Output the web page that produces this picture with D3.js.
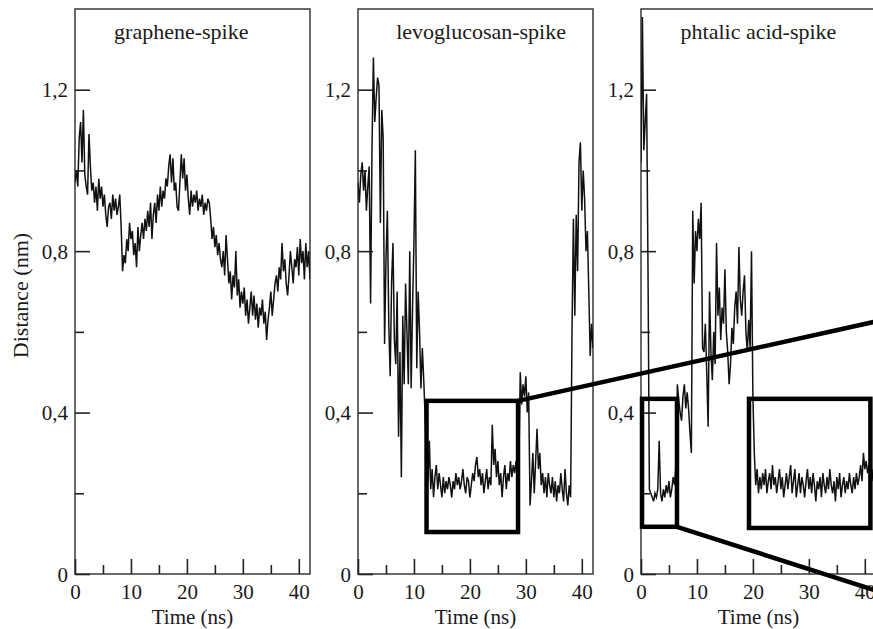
<!DOCTYPE html>
<html>
<head>
<meta charset="utf-8">
<script src="https://cdn.jsdelivr.net/npm/d3@7/dist/d3.min.js"></script>
<style>
body{margin:0;background:#fff}
svg text{font-family:"Liberation Serif","Times New Roman",serif;fill:#1a1a1a}
</style>
</head>
<body>
<svg id="chart" width="873" height="629"></svg>
<script>

// distance (nm) sampled every 0.25 ns, t = 0 .. 42
let time_step = 0.25

let graphene_spike = [
0.97,1.00,0.96,1.08,1.12,1.02,1.15,0.99,0.96,
0.94,1.09,1.01,0.95,0.97,0.92,0.96,0.90,
0.98,0.93,0.96,0.91,0.94,0.89,0.86,0.91,
0.92,0.88,0.94,0.90,0.93,0.89,0.91,0.94,
0.86,0.75,0.79,0.77,0.83,0.80,0.87,0.83,
0.85,0.79,0.82,0.76,0.86,0.80,0.84,0.87,
0.83,0.88,0.85,0.90,0.86,0.92,0.83,0.89,
0.92,0.87,0.94,0.90,0.96,0.91,0.95,0.93,
0.98,0.96,1.01,1.04,0.97,1.03,0.95,0.97,
0.91,0.90,0.97,1.04,0.98,1.03,0.95,0.99,
0.93,0.89,0.95,0.91,0.94,0.92,0.95,0.90,
0.93,0.91,0.94,0.89,0.92,0.90,0.93,0.92,
0.88,0.83,0.86,0.81,0.84,0.79,0.82,0.78,
0.76,0.80,0.74,0.84,0.78,0.72,0.75,0.68,
0.74,0.71,0.80,0.69,0.73,0.66,0.70,0.67,
0.71,0.64,0.68,0.62,0.66,0.70,0.64,0.69,
0.63,0.67,0.61,0.66,0.64,0.68,0.62,0.65,
0.58,0.63,0.66,0.70,0.64,0.68,0.72,0.74,
0.70,0.76,0.73,0.82,0.75,0.78,0.72,0.69,
0.74,0.80,0.76,0.72,0.78,0.76,0.81,0.74,
0.83,0.77,0.80,0.73,0.82,0.76,0.80,0.73]

let levoglucosan_spike = [
0.97,0.92,0.99,1.02,0.95,1.00,0.90,0.96,1.01,
0.67,1.05,1.28,1.12,1.18,1.23,1.21,0.87,
1.15,1.08,0.57,0.78,0.90,0.62,0.49,0.72,
0.82,0.58,0.52,0.70,0.34,0.55,0.24,0.64,
0.47,0.72,0.60,0.47,0.80,0.46,0.66,0.82,
1.05,0.51,0.70,0.60,0.46,0.56,0.48,0.39,
0.27,0.23,0.33,0.21,0.26,0.19,0.24,0.27,
0.21,0.25,0.22,0.19,0.24,0.20,0.23,0.21,
0.24,0.22,0.19,0.23,0.21,0.25,0.22,0.24,
0.21,0.23,0.26,0.22,0.20,0.24,0.23,0.19,
0.22,0.25,0.23,0.27,0.29,0.24,0.26,0.22,
0.25,0.20,0.23,0.26,0.21,0.24,0.22,0.37,
0.27,0.31,0.24,0.28,0.22,0.25,0.19,0.24,
0.27,0.21,0.25,0.23,0.28,0.24,0.27,0.25,
0.28,0.24,0.27,0.50,0.42,0.47,0.44,0.49,
0.40,0.45,0.17,0.23,0.30,0.20,0.28,0.36,
0.26,0.30,0.22,0.25,0.20,0.24,0.19,0.25,
0.22,0.20,0.24,0.19,0.23,0.18,0.22,0.20,
0.25,0.21,0.18,0.26,0.20,0.17,0.22,0.19,
0.60,0.88,0.64,0.89,0.75,1.02,1.07,0.90,
1.00,0.93,0.80,0.85,0.70,0.54,0.62,0.56]

let phtalic_acid_spike = [
1.02,1.38,1.05,1.12,1.19,0.76,0.21,0.20,0.19,
0.18,0.20,0.19,0.21,0.33,0.20,0.18,0.21,
0.19,0.22,0.20,0.23,0.19,0.21,0.24,0.22,
0.27,0.47,0.43,0.40,0.38,0.44,0.47,0.41,
0.45,0.41,0.35,0.30,0.90,0.72,0.85,0.80,
0.88,0.83,0.92,0.56,0.55,0.62,0.50,0.365,
0.70,0.55,0.48,0.60,0.52,0.82,0.64,0.71,
0.58,0.66,0.62,0.755,0.60,0.55,0.47,0.52,
0.61,0.57,0.66,0.70,0.62,0.81,0.68,0.64,
0.70,0.74,0.60,0.55,0.63,0.56,0.80,0.44,
0.30,0.22,0.26,0.20,0.24,0.21,0.25,0.22,
0.26,0.20,0.23,0.25,0.21,0.27,0.22,0.24,
0.20,0.23,0.26,0.21,0.24,0.19,0.22,0.25,
0.21,0.24,0.27,0.20,0.23,0.26,0.19,0.22,
0.25,0.20,0.24,0.22,0.19,0.23,0.26,0.21,
0.24,0.20,0.25,0.22,0.18,0.23,0.21,0.24,
0.19,0.25,0.22,0.20,0.24,0.21,0.26,0.22,
0.20,0.23,0.18,0.24,0.21,0.25,0.19,0.22,
0.24,0.20,0.23,0.21,0.25,0.22,0.20,0.24,
0.21,0.25,0.22,0.24,0.27,0.23,0.30,0.26,
0.28,0.25,0.27,0.24,0.26,0.23,0.25,0.24]

let panel_series = [graphene_spike, levoglucosan_spike, phtalic_acid_spike]
let panel_titles = ["graphene-spike", "levoglucosan-spike", "phtalic acid-spike"]
let title_at = [19, 22, 21]   // title centre, in ns

let x_major = [0, 10, 20, 30, 40]
let x_minor = [5, 15, 25, 35]
let y_major = [0, 0.4, 0.8, 1.2]
let y_major_labels = ["0", "0,4", "0,8", "1,2"]
let y_minor = [0.2, 0.6, 1.0]

// zoom boxes: panel, t from, t to, top, bottom
let zoom_boxes = [
  [1, 12.25, 28.6, 0.429, 0.104],
  [2, 0.18, 6.43, 0.434, 0.117],
  [2, 19.3, 41.0, 0.434, 0.114]
]

// connector lines: [panel, t, d] -> [panel, t, d]
let connectors = [
  [[1, 28.6, 0.429], [2, 44, 0.632]],
  [[2, 6.43, 0.117], [2, 44, -0.05]]
]


let panel_left = [75, 358, 641]
let panel_w = 235
let plot_top = 9
let plot_bottom = 574
let font_px = '21px'

let svg = d3.select('#chart')

svg.append('rect')
.attr('width', 873)
.attr('height', 629)
.attr('fill', 'white')

let y = d3.scaleLinear()
.domain([0, 1.4])
.range([plot_bottom, plot_top])

let x_scales = panel_left.map(l => d3.scaleLinear().domain([0, 42]).range([l, l + panel_w]))

function px(p){ return x_scales[p[0]](p[1]) }
function py(p){ return y(p[2]) }


panel_series.forEach((series, i) => {

let x = x_scales[i]
let g = svg.append('g').attr('class', 'panel')

g.append('clipPath')
.attr('id', 'clip_' + i)
.append('rect')
.attr('x', x.range()[0])
.attr('y', plot_top)
.attr('width', panel_w)
.attr('height', plot_bottom - plot_top)

// frame
g.append('rect')
.attr('x', x.range()[0])
.attr('y', plot_top)
.attr('width', panel_w)
.attr('height', plot_bottom - plot_top)
.attr('fill', 'none')
.attr('stroke', '#3a3a3a')
.attr('stroke-width', 1.5)

// y ticks, inward
let y_ax = g.append('g')
.attr('transform', 'translate(' + x.range()[0] + ',0)')
.call(d3.axisLeft(y).tickValues(y_major).tickSize(-15).tickPadding(7)
  .tickFormat((d, k) => y_major_labels[k]))

let y_ax_minor = g.append('g')
.attr('transform', 'translate(' + x.range()[0] + ',0)')
.call(d3.axisLeft(y).tickValues(y_minor).tickSize(-9).tickFormat(''))

// x ticks, inward
let x_ax = g.append('g')
.attr('transform', 'translate(0,' + plot_bottom + ')')
.call(d3.axisBottom(x).tickValues(x_major).tickSize(-15).tickPadding(9)
  .tickFormat(d3.format('d')))

let x_ax_minor = g.append('g')
.attr('transform', 'translate(0,' + plot_bottom + ')')
.call(d3.axisBottom(x).tickValues(x_minor).tickSize(-9).tickFormat(''))

g.selectAll('.domain').remove()

g.selectAll('.tick line')
.attr('stroke', '#222')
.attr('stroke-width', 1.6)

g.selectAll('.tick text')
.style('font-size', font_px)
.attr('fill', '#1a1a1a')

x_ax.selectAll('.tick text')
.attr('dy', null)
.attr('y', 25)

y_ax.selectAll('.tick text')
.attr('dy', '0.34em')

// trace
let line = d3.line()
.x((d, k) => x(k * time_step))
.y(d => y(d))

g.append('path')
.datum(series)
.attr('clip-path', 'url(#clip_' + i + ')')
.attr('d', line)
.attr('fill', 'none')
.attr('stroke', '#111')
.attr('stroke-width', 1.5)
.attr('stroke-linejoin', 'miter')

// title
g.append('text')
.attr('x', x(title_at[i]))
.attr('y', 39)
.attr('text-anchor', 'middle')
.style('font-size', '22px')
.text(panel_titles[i])

g.append('text')
.attr('x', x(21))
.attr('y', 624)
.attr('text-anchor', 'middle')
.style('font-size', font_px)
.text('Time (ns)')

})


svg.append('text')
.attr('transform', 'translate(28,' + y(0.69) + ') rotate(-90)')
.attr('text-anchor', 'middle')
.style('font-size', '22px')
.text('Distance (nm)')


// zoom boxes
svg.selectAll('rect.zoom_box')
.data(zoom_boxes)
.enter()
.append('rect')
.attr('class', 'zoom_box')
.attr('x', d => x_scales[d[0]](d[1]))
.attr('y', d => y(d[3]))
.attr('width', d => x_scales[d[0]](d[2]) - x_scales[d[0]](d[1]))
.attr('height', d => y(d[4]) - y(d[3]))
.attr('fill', 'none')
.attr('stroke', 'black')
.attr('stroke-width', 4.5)

svg.selectAll('line.connector')
.data(connectors)
.enter()
.append('line')
.attr('class', 'connector')
.attr('x1', d => px(d[0]))
.attr('y1', d => py(d[0]))
.attr('x2', d => px(d[1]))
.attr('y2', d => py(d[1]))
.attr('stroke', 'black')
.attr('stroke-width', 4.5)

</script>
</body>
</html>
